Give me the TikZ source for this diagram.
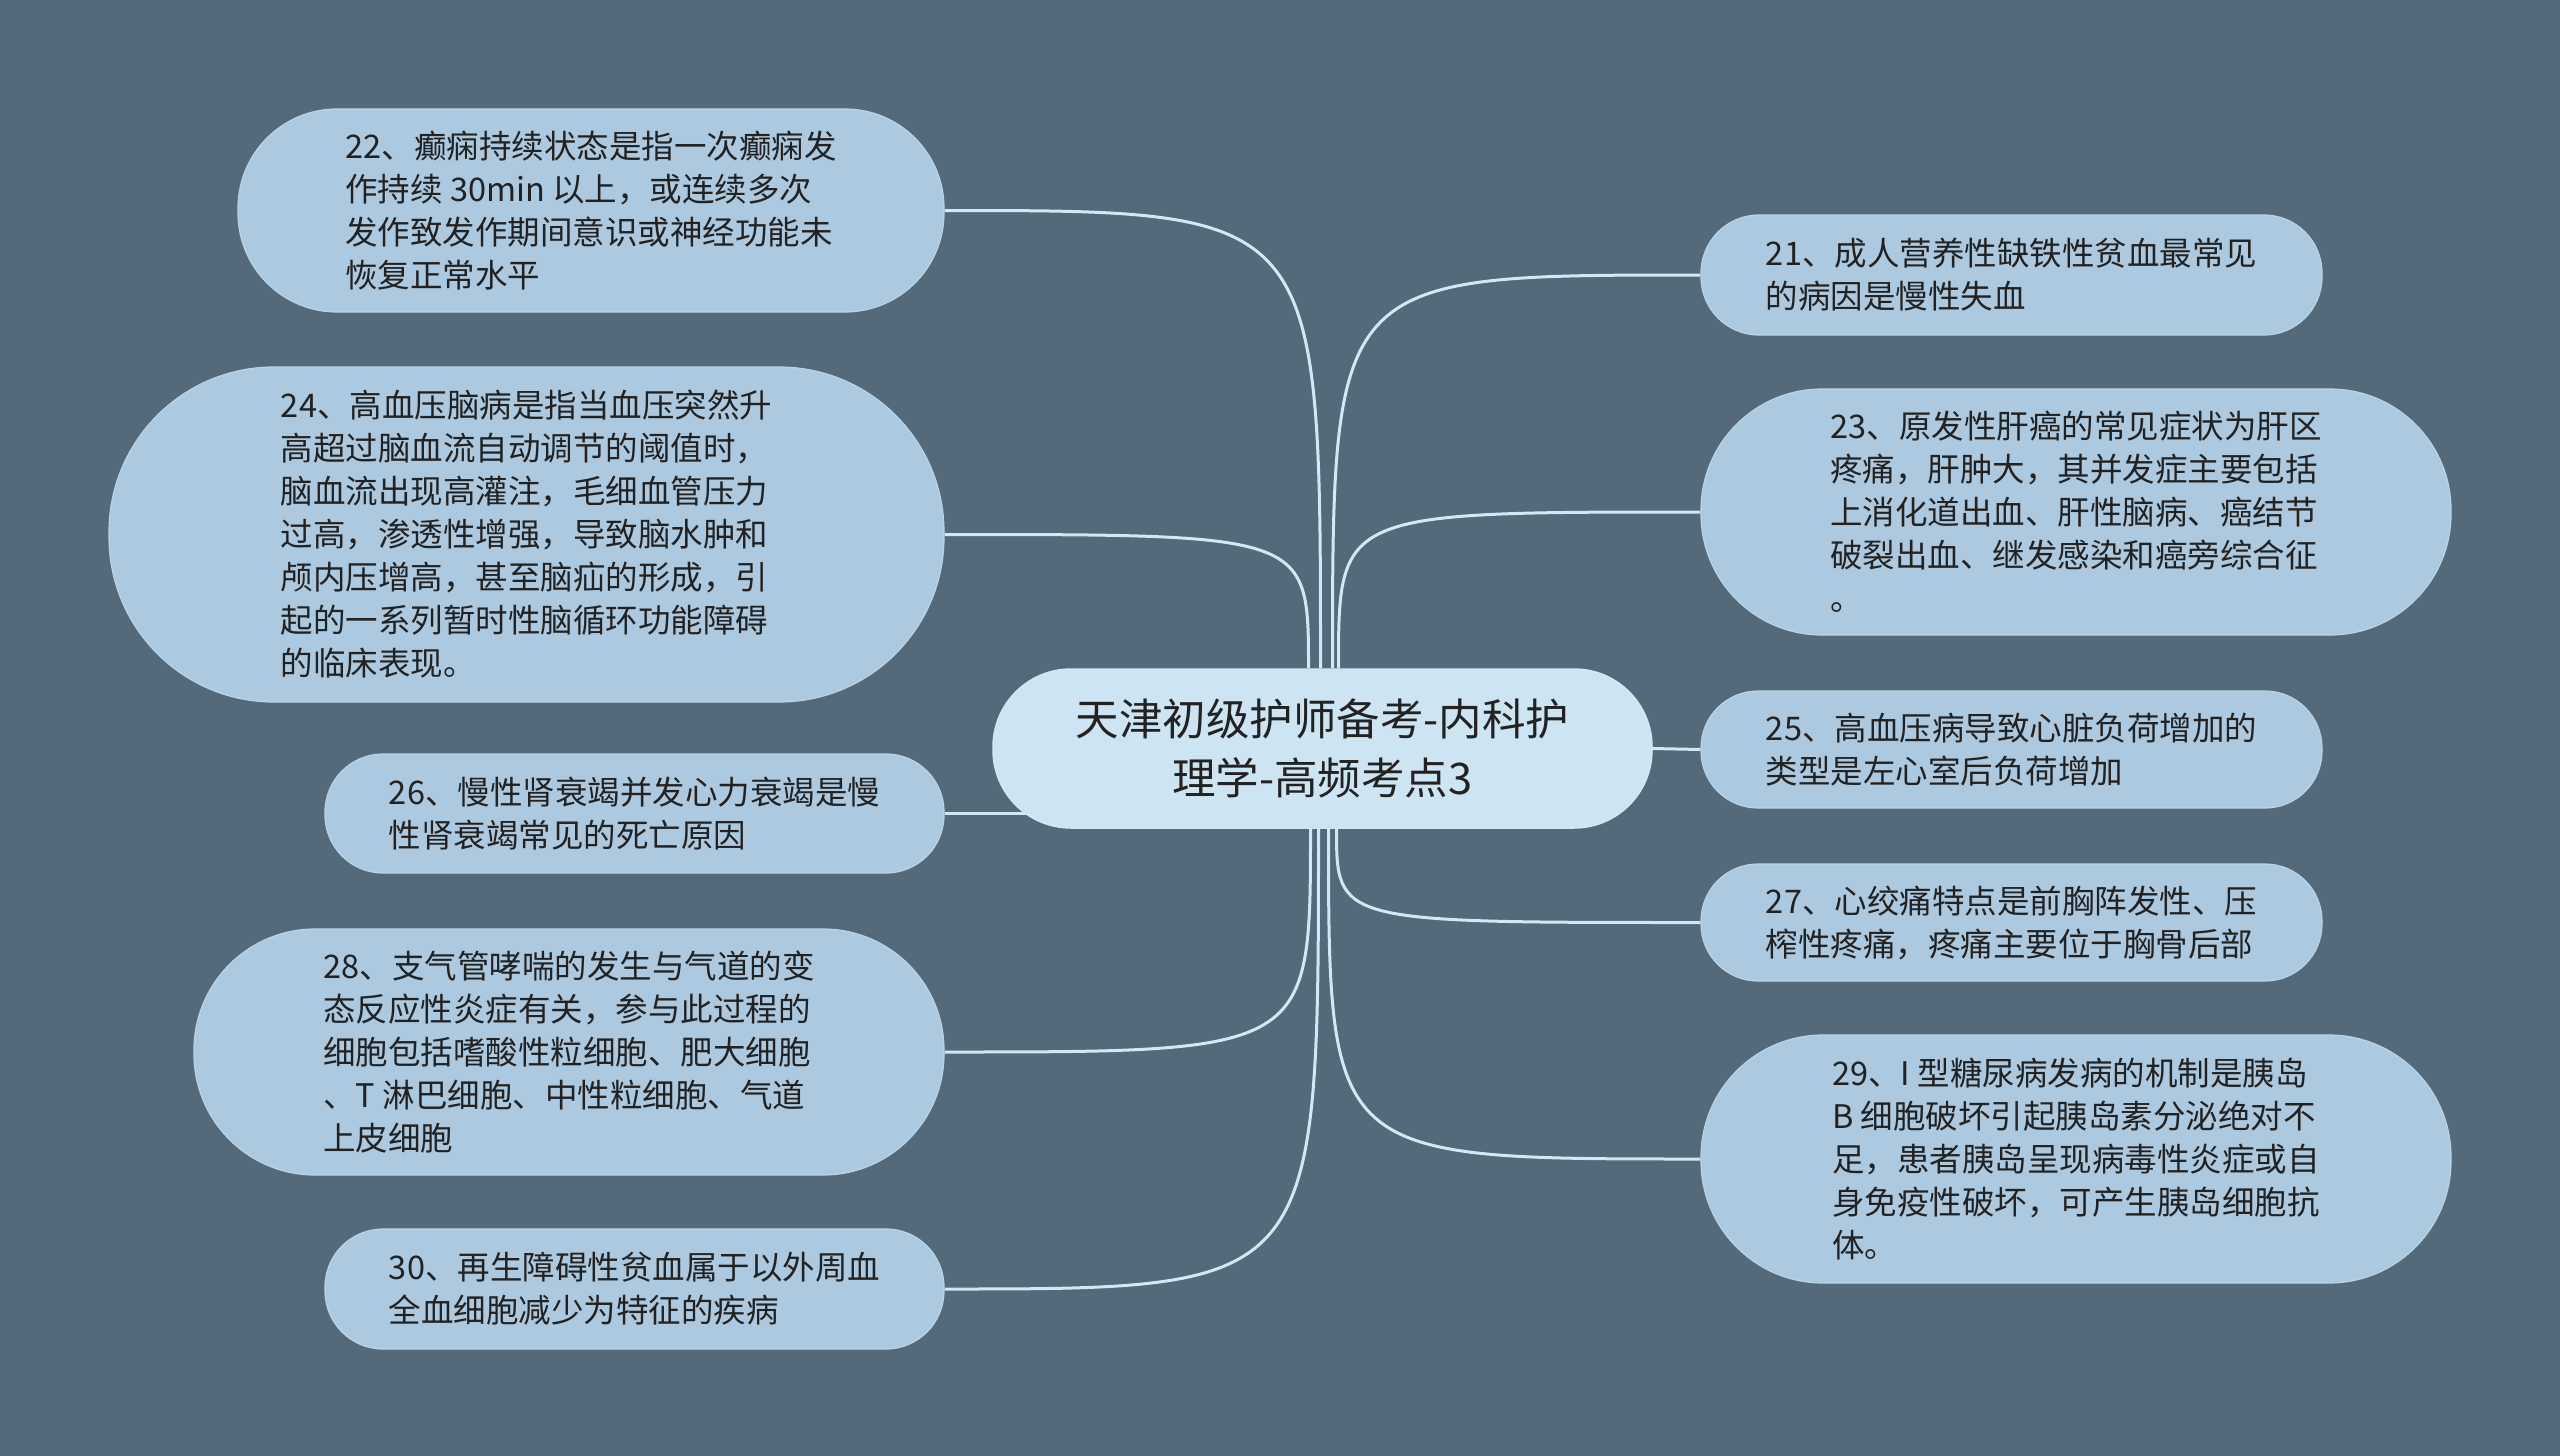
\documentclass[tikz,border=0pt]{standalone}
\usepackage{fontspec}
\setmainfont{Noto Sans CJK SC}
\definecolor{bgcol}{HTML}{546A7A}
\definecolor{nodefill}{HTML}{ACC9DF}
\definecolor{nodeedge}{HTML}{B9D4E8}
\definecolor{rootfill}{HTML}{CDE5F2}
\definecolor{linkcol}{HTML}{D3E8F5}
\definecolor{txt}{HTML}{222222}
\pgfdeclarelayer{back}
\pgfdeclarelayer{links}
\pgfsetlayers{back,links,main}
\begin{document}
\begin{tikzpicture}[x=1pt,y=-1pt,
  leaf/.style={fill=nodefill, draw=nodeedge, line width=1.2pt, inner sep=0pt, align=left, text=txt, font={\fontsize{32.5}{43}\selectfont}},
  root/.style={fill=rootfill, draw=linkcol, line width=1.5pt, inner sep=0pt, align=center, text=txt, font={\fontsize{43.5}{59}\selectfont}},
  link/.style={draw=linkcol, line width=3pt}]
\begin{pgfonlayer}{back}
\fill[bgcol] (0,0) rectangle (2560,1456);
\end{pgfonlayer}
\useasboundingbox (0,0) rectangle (2560,1456);

\node[root, minimum width=659pt, minimum height=159pt, rounded corners=78pt] (c) at (1322.5,748.5) {天津初级护师备考-内科护\\理学-高频考点3};

\node[leaf, minimum width=706pt, minimum height=203pt, rounded corners=99pt] (n22) at (591,210.5) {22、癫痫持续状态是指一次癫痫发\\作持续 30min 以上，或连续多次\\发作致发作期间意识或神经功能未\\恢复正常水平};
\node[leaf, minimum width=835pt, minimum height=335pt, rounded corners=165pt] (n24) at (526.5,534.5) {24、高血压脑病是指当血压突然升\\高超过脑血流自动调节的阈值时，\\脑血流出现高灌注，毛细血管压力\\过高，渗透性增强，导致脑水肿和\\颅内压增高，甚至脑疝的形成，引\\起的一系列暂时性脑循环功能障碍\\的临床表现。};
\node[leaf, minimum width=619pt, minimum height=119pt, rounded corners=58pt] (n26) at (634.5,813.5) {26、慢性肾衰竭并发心力衰竭是慢\\性肾衰竭常见的死亡原因};
\node[leaf, minimum width=750pt, minimum height=246pt, rounded corners=121pt] (n28) at (569,1052) {28、支气管哮喘的发生与气道的变\\态反应性炎症有关，参与此过程的\\细胞包括嗜酸性粒细胞、肥大细胞\\、T 淋巴细胞、中性粒细胞、气道\\上皮细胞};
\node[leaf, minimum width=619pt, minimum height=120pt, rounded corners=58pt] (n30) at (634.5,1289) {30、再生障碍性贫血属于以外周血\\全血细胞减少为特征的疾病};

\node[leaf, minimum width=621pt, minimum height=120pt, rounded corners=58pt] (n21) at (2011.5,275) {21、成人营养性缺铁性贫血最常见\\的病因是慢性失血};
\node[leaf, minimum width=750pt, minimum height=246pt, rounded corners=121pt] (n23) at (2076,512) {23、原发性肝癌的常见症状为肝区\\疼痛，肝肿大，其并发症主要包括\\上消化道出血、肝性脑病、癌结节\\破裂出血、继发感染和癌旁综合征\\。};
\node[leaf, minimum width=621pt, minimum height=117pt, rounded corners=57pt] (n25) at (2011.5,749.5) {25、高血压病导致心脏负荷增加的\\类型是左心室后负荷增加};
\node[leaf, minimum width=621pt, minimum height=117pt, rounded corners=57pt] (n27) at (2011.5,922.5) {27、心绞痛特点是前胸阵发性、压\\榨性疼痛，疼痛主要位于胸骨后部};
\node[leaf, minimum width=750pt, minimum height=248pt, rounded corners=122pt] (n29) at (2076,1159) {29、I 型糖尿病发病的机制是胰岛\\B 细胞破坏引起胰岛素分泌绝对不\\足，患者胰岛呈现病毒性炎症或自\\身免疫性破坏，可产生胰岛细胞抗\\体。};

\coordinate (t22) at ([xshift=-2pt]c.north);
\coordinate (t24) at ([xshift=-14pt]c.north);
\coordinate (t21) at ([xshift=10pt]c.north);
\coordinate (t23) at ([xshift=16pt]c.north);
\coordinate (b28) at ([xshift=-12pt]c.south);
\coordinate (b30) at ([xshift=-4pt]c.south);
\coordinate (b29) at ([xshift=6pt]c.south);
\coordinate (b27) at ([xshift=14pt]c.south);

\begin{pgfonlayer}{links}
\draw[link] (t22) .. controls (t22 |- n22.east) .. (n22.east);
\draw[link] (t24) .. controls (t24 |- n24.east) .. (n24.east);
\draw[link] (t21) .. controls (t21 |- n21.west) .. (n21.west);
\draw[link] (t23) .. controls (t23 |- n23.west) .. (n23.west);
\draw[link] (b28) .. controls (b28 |- n28.east) .. (n28.east);
\draw[link] (b30) .. controls (b30 |- n30.east) .. (n30.east);
\draw[link] (b29) .. controls (b29 |- n29.west) .. (n29.west);
\draw[link] (b27) .. controls (b27 |- n27.west) .. (n27.west);
\draw[link] (c.east) -- (n25.west);
\draw[link] (n26.east) -- (c.center |- n26.east);
\end{pgfonlayer}
\end{tikzpicture}
\end{document}
